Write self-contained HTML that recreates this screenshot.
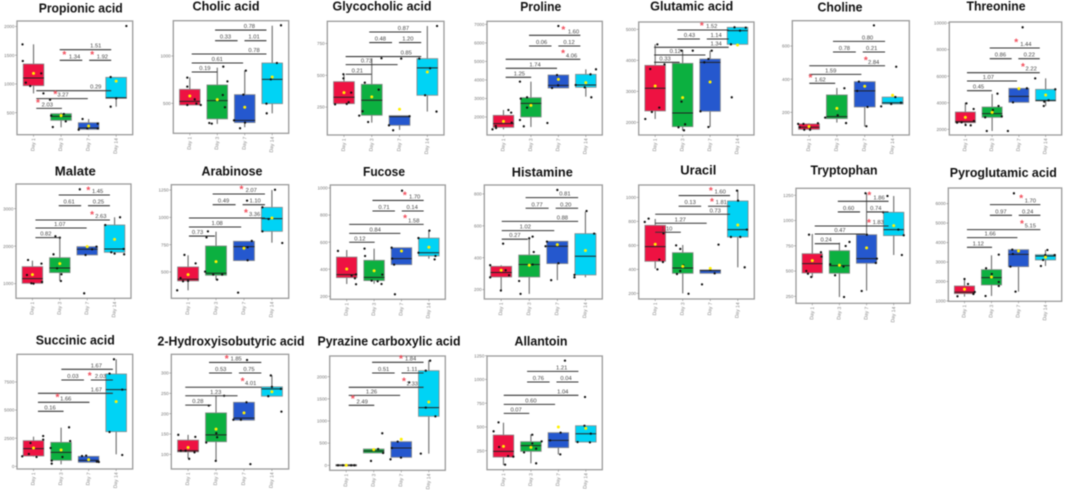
<!DOCTYPE html>
<html lang="en">
<head>
<meta charset="utf-8">
<title>Metabolite box plots</title>
<style>
html,body{margin:0;padding:0;background:#fff;width:1065px;height:490px;overflow:hidden}
svg{display:block;filter:blur(0.4px)}
text{font-family:"Liberation Sans",sans-serif}
</style>
</head>
<body>
<svg id="figure" width="1065" height="490" viewBox="0 0 1065 490" xmlns="http://www.w3.org/2000/svg"></svg>
<script>
const days = ['Day 1','Day 3','Day 7','Day 14'];
const dayColors = ['#EE1242','#0CB040','#2558CE','#00D3F5'];

/* Each stats row: low whisker, Q1, median, Q3, high whisker, mean */
const propionicStats = [[836,970,1103,1347,1689,1184],[245,367,436,483,500,448],[200,210,233,326,390,268],[604,750,760,1115,1115,1050]];
const propionicPoints = [[.6,1689],[.61,1399],[.72,1022],[.88,964],[1.28,1184],[1.36,836],[1.64,448],[1.7,250],[2.1,477],[2.17,349],[1.6,726],[2.64,204],[2.78,390],[3.33,309],[3.33,227],[2.95,227],[3.8,604],[3.8,1120],[4,750],[4.37,2008]];
const propionicBracketY = [575,744,883,1411,1411,1596];
const propionicLabels = [['2.03',1.5],['3.27',2.07],['0.29',3.26],['1.34',2.49],['1.92',3.5],['1.51',3.26]];
const propionicStars = [[1.16,703],[1.79,854],[2.12,1544],[3.13,1544]];
const propionicTicks = [500,1000,1500,2000];

const cholicStats = [[482,482,521,648,775,577],[282,335,528,694,877,539],[247,296,320,592,845,458],[394,496,753,926,1320,778]];
const cholicPoints = [[.91,771],[.91,676],[.91,482],[1.18,542],[1.24,496],[1.4,482],[1.71,292],[1.8,285],[2.2,588],[2.22,887],[2.28,458],[2.37,732],[2.61,320],[2.83,236],[2.95,592],[3.04,845],[3.01,296],[3.79,496],[3.8,394],[3.95,753],[4.17,926],[4.32,1324]];
const cholicBracketY = [831,926,1021,1162,1162,1274];
const cholicLabels = [['0.19',1.55],['0.61',2],['0.78',3.34],['0.33',2.3],['1.01',3.34],['0.78',3.17]];
const cholicStars = [];
const cholicTicks = [500,1000];

const glycocholicStats = [[275,277,327,450,510,364],[128,186,304,429,634,330],[71,107,175,183,183,233],[215,343,558,631,887,526]];
const glycocholicPoints = [[.68,272],[.98,476],[.98,508],[1.1,275],[1.17,288],[1.26,364],[1.55,183],[1.67,217],[1.75,442],[1.87,133],[2.25,387],[2.35,634],[2.62,107],[2.77,68],[3.06,631],[3.36,178],[3.71,631],[3.92,343],[4.1,555],[4.33,215],[4.35,887]];
const glycocholicBracketY = [508,584,647,757,757,840];
const glycocholicLabels = [['0.21',1.48],['0.73',1.81],['0.85',3.24],['0.48',2.31],['1.20',3.3],['0.87',3.14]];
const glycocholicStars = [];
const glycocholicTicks = [250,500,750];

const prolineStats = [[1334,1442,1640,2090,2378,1766],[1460,2000,2738,3044,3908,2630],[3566,3566,3710,4268,4268,4034],[3098,3602,3728,4304,4574,3854]];
const prolinePoints = [[.6,1334],[.72,1514],[.73,1406],[1.18,2378],[1.28,2234],[1.3,1694],[1.6,3908],[1.6,1838],[1.74,1496],[1.63,2990],[1.86,2504],[1.86,3062],[2.6,1676],[2.77,3566],[2.95,4268],[2.99,3710],[3,6914],[3.63,3728],[3.96,3602],[4.17,4304],[4.2,3062],[4.37,4574]];
const prolineBracketY = [4142,4628,5114,5834,5834,6410];
const prolineLabels = [['1.25',1.58],['1.74',2.15],['4.06',3.48],['0.06',2.39],['0.12',3.39],['1.60',3.55]];
const prolineStars = [[3.18,6806],[3.17,5546]];
const prolineTicks = [2000,3000,4000,5000,6000,7000];

const glutamicStats = [[2107,2366,3097,3838,4515,3172],[1731,1860,2301,3903,4333,2795],[1850,2355,3935,4043,4311,3301],[4516,4516,4956,5064,5064,4494]];
const glutamicPoints = [[.64,2107],[.82,3720],[.88,2333],[1.08,4515],[1.15,2473],[1.34,3870],[1.85,1839],[1.96,4311],[1.96,2667],[2.05,1742],[2.09,1935],[2.37,4311],[2.65,2355],[2.79,3935],[2.94,1850],[2.94,4043],[3.06,4311],[3.79,2806],[3.76,4516],[3.89,5064],[4.09,4956],[4.3,5053]];
const glutamicBracketY = [3935,4172,4419,4688,4688,4978];
const glutamicLabels = [['0.33',1.36],['0.12',1.73],['1.34',3.22],['0.43',2.25],['1.14',3.22],['1.52',3.06]];
const glutamicStars = [[2.7,5171]];
const glutamicTicks = [2000,3000,4000,5000];

const cholineStats = [[93,97,110,130,134,114],[138,162,174,305,347,224],[114,232,329,385,385,357],[250,250,258,292,292,303]];
const cholinePoints = [[.61,130],[.67,110],[.8,130],[.83,95],[1.04,95],[1.32,134],[1.04,110],[1.58,168],[2.03,182],[2.27,345],[2.33,135],[2.73,329],[3.06,116],[2.79,385],[3.1,232],[3.59,236],[3.95,250],[4.13,475],[4.1,292],[4.3,258],[3.33,725]];
const cholineBracketY = [375,429,481,564,564,628];
const cholineLabels = [['1.62',1.4],['1.59',1.78],['2.84',3.32],['0.78',2.27],['0.21',3.25],['0.80',3.1]];
const cholineStars = [[1.05,419],[3.04,526]];
const cholineTicks = [200,400,600];

const threonineStats = [[2301,2502,2577,3304,4006,2903],[1875,2903,3179,3680,4658,3279],[4031,4031,4483,5085,5085,5060],[3756,4132,4182,5010,5837,4583]];
const threoninePoints = [[.69,2502],[.86,2527],[1.04,3956],[1.01,2326],[1.2,2301],[1.31,3530],[1.32,2627],[1.8,1875],[1.74,2903],[2.03,3455],[2.24,3756],[2.2,4683],[2.36,2978],[2.59,1875],[2.78,4031],[3.14,9675],[3.3,5085],[3.61,5837],[3.93,3756],[3.95,4082],[4.11,4182],[4.36,5010]];
const threonineBracketY = [4909,5637,6264,7317,7317,8120];
const threonineLabels = [['0.45',1.49],['1.07',1.86],['2.22',3.46],['0.86',2.31],['0.22',3.39],['1.44',3.26]];
const threonineStars = [[2.9,8696],[3.15,6865]];
const threonineTicks = [2000,4000,6000,8000,10000];

const malateStats = [[991,1009,1133,1453,1613,1240],[1080,1293,1418,1693,2236,1533],[1765,1765,1916,1987,2005,1987],[1791,1836,1925,2565,2770,2182]];
const malatePoints = [[.84,1631],[.8,1231],[.96,1009],[1.04,1000],[1.33,1533],[1.35,1044],[1.77,1782],[1.9,1409],[1.84,2262],[2.06,1249],[2.04,1071],[2,2227],[2.89,742],[2.94,1765],[3.18,1916],[3.34,1987],[2.73,3516],[3.66,2565],[3.88,1836],[4,1800],[4.2,2770],[4.35,1782],[4.33,1925]];
const malateBracketY = [2227,2485,2698,3080,3080,3365];
const malateLabels = [['0.82',1.49],['1.07',2],['2.63',3.5],['0.61',2.34],['0.25',3.41],['1.45',3.38]];
const malateStars = [[3.04,3543],[3.18,2894]];
const malateTicks = [1000,2000,3000];

const arabinoseStats = [[332,418,433,546,653,476],[427,470,488,738,869,595],[604,604,732,781,781,717],[768,872,988,1092,1250,994]];
const arabinosePoints = [[.61,332],[.73,445],[.82,415],[.87,656],[1,418],[1.27,579],[1.61,503],[1.66,817],[1.71,872],[1.9,476],[2.04,430],[2.22,476],[2.79,311],[3.13,607],[3.13,726],[3.11,1153],[3.28,784],[3.66,872],[3.66,1092],[3.88,985],[4.11,1253],[4.37,765]];
const arabinoseBracketY = [829,912,994,1116,1116,1214];
const arabinoseLabels = [['0.73',1.34],['1.08',2.04],['3.36',3.38],['0.49',2.27],['1.10',3.4],['2.07',3.26]];
const arabinoseStars = [[2.91,1275],[3.07,1061]];
const arabinoseTicks = [500,750,1000,1250];

const fucoseStats = [[291,338,360,490,542,402],[293,316,340,466,552,389],[434,434,478,559,559,535],[478,498,522,630,685,562]];
const fucosePoints = [[.68,535],[1.18,353],[1.3,333],[1.34,362],[1.34,289],[1.65,552],[1.67,498],[1.91,316],[2.13,311],[2.27,291],[2.3,360],[2.76,215],[2.73,434],[2.66,478],[2.64,559],[3.02,980],[3.62,630],[3.62,522],[4.02,685],[4.24,498],[4.21,473]];
const fucoseBracketY = [599,665,731,830,830,908];
const fucoseLabels = [['0.12',1.48],['0.84',2.04],['1.58',3.45],['0.71',2.36],['0.14',3.39],['1.70',3.48]];
const fucoseStars = [[3.12,960],[3.13,790]];
const fucoseTicks = [200,400,600,800,1000];

const histamineStats = [[194,279,307,346,353,321],[173,279,357,417,528,353],[259,363,472,503,503,482],[277,292,409,551,689,445]];
const histaminePoints = [[.61,353],[.61,277],[.99,194],[1.07,488],[1.16,321],[1.28,290],[1.64,254],[1.69,173],[2.12,532],[2.16,436],[2.12,357],[2,522],[2.78,259],[2.63,501],[2.58,472],[3.04,365],[3,825],[3.61,292],[3.61,277],[4.04,693],[4.31,551]];
const histamineBracketY = [516,570,628,710,710,777];
const histamineLabels = [['0.27',1.49],['1.02',1.86],['0.88',3.18],['0.77',2.28],['0.20',3.3],['0.81',3.27]];
const histamineStars = [];
const histamineTicks = [200,400,600,800];

const uracilStats = [[406,467,589,767,820,609],[200,367,411,539,603,425],[367,367,389,395,400,408],[417,670,731,970,1062,770]];
const uracilPoints = [[.62,795],[.76,823],[1.08,400],[1.15,481],[1.28,461],[1.3,700],[1.76,600],[1.79,361],[1.91,570],[1.91,386],[2.02,433],[2.21,197],[2.7,275],[3.16,367],[3.3,606],[3,395],[3.75,670],[3.97,1056],[4.01,973],[4.09,670],[4.25,417],[4.33,731]];
const uracilBracketY = [709,784,859,926,926,1015];
const uracilLabels = [['1.10',1.42],['1.27',1.91],['0.73',3.18],['0.13',2.27],['1.81',3.4],['1.60',3.36]];
const uracilStars = [[3.02,1073],[3.06,978]];
const uracilTicks = [200,400,600,800,1000];

const tryptophanStats = [[438,481,573,672,867,603],[243,478,554,702,781,557],[306,577,623,860,1270,729],[659,851,910,1082,1243,950]];
const tryptophanPoints = [[.78,501],[.84,474],[.96,441],[.88,860],[1.32,686],[1.34,643],[1.66,567],[1.84,458],[2.15,544],[2.17,243],[2.23,748],[2.37,788],[2.82,303],[2.96,1270],[3.01,860],[3.34,580],[3.38,623],[3.61,1082],[3.77,1243],[4.17,910],[4.3,659],[4.37,854]];
const tryptophanBracketY = [771,867,946,1085,1085,1190];
const tryptophanLabels = [['0.24',1.51],['0.47',2.02],['1.83',3.43],['0.60',2.34],['0.74',3.34],['1.86',3.46]];
const tryptophanStars = [[3.1,1270],[3.09,996]];
const tryptophanTicks = [250,500,750,1000,1250];

const pyroglutamicStats = [[1223,1377,1445,1770,2147,1599],[1257,1822,2198,2609,3345,2233],[1479,2763,3397,3636,3636,3568],[2798,3106,3311,3380,3619,3243]];
const pyroglutamicPoints = [[.74,1240],[1,2130],[1.13,1873],[1.33,1360],[1.38,1462],[1.78,1257],[1.8,2678],[2.01,2387],[2.27,1976],[2.27,1770],[2.27,3380],[2.7,2763],[2.77,3636],[2.79,3414],[2.89,1479],[2.83,6530],[3.83,2798],[3.91,3106],[4.07,3619],[3.99,3363],[4.34,3363]];
const pyroglutamicBracketY = [3756,4253,4664,5400,5400,5948];
const pyroglutamicLabels = [['1.12',1.51],['1.66',1.95],['5.15',3.44],['0.97',2.35],['0.24',3.34],['1.70',3.44]];
const pyroglutamicStars = [[3.1,6376],[3.13,5075]];
const pyroglutamicTicks = [1000,2000,3000,4000,5000,6000];

const succinicStats = [[860,919,1571,2282,2638,1630],[178,534,1245,2134,3438,1452],[356,356,534,889,889,593],[1067,3083,6817,8210,9514,5750]];
const succinicPoints = [[.59,889],[.83,1097],[.89,2075],[1.11,830],[1.35,2371],[1.35,2697],[1.62,1630],[1.66,504],[1.66,237],[2.05,830],[2.29,3468],[2.33,2253],[2.76,919],[2.91,948],[3.3,415],[3.37,385],[3.76,3053],[3.76,8240],[3.92,9514],[4.22,6817],[4.22,1008]];
const succinicBracketY = [4891,5691,6491,7677,7677,8625];
const succinicLabels = [['0.16',1.6],['1.66',2.17],['1.67',3.28],['0.03',2.43],['2.03',3.43],['1.67',3.28]];
const succinicStars = [[1.87,6313],[3.04,8240]];
const succinicTicks = [0,2500,5000,7500];

const hydroxyStats = [[90,106,109,135,148,117],[84,131,148,202,244,162],[184,184,189,228,228,202],[243,243,261,266,294,254]];
const hydroxyPoints = [[.65,148],[.74,109],[.91,109],[1.04,89],[1.26,143],[1.23,105],[1.65,129],[1.99,84],[1.74,220],[2.01,152],[2.04,142],[2.29,244],[2.62,185],[2.89,185],[3.09,228],[3.23,76],[3.11,332],[3.87,243],[4,266],[3.96,294],[4.34,205],[4.32,261]];
const hydroxyBracketY = [221,244,265,300,300,326];
const hydroxyLabels = [['0.28',1.35],['1.23',1.99],['4.01',3.24],['0.53',2.17],['0.75',3.18],['1.85',2.72]];
const hydroxyStars = [[2.38,340],[2.95,285]];
const hydroxyTicks = [100,150,200,250,300];

const pyrazineStats = [[-15,-15,0,15,15,0],[278,278,323,368,368,353],[180,180,391,534,534,587],[263,1105,1301,2136,2369,1429]];
const pyrazinePoints = [[.7,0],[.88,0],[1,0],[1.18,0],[1.3,0],[1.9,98],[2.16,368],[2.31,722],[2.34,278],[2.61,135],[2.66,391],[2.87,534],[2.99,173],[3.29,1872],[3.71,263],[3.89,2136],[3.89,1301],[4.05,2361],[4.24,1105]];
const pyrazineBracketY = [1354,1579,1760,2083,2083,2324];
const pyrazineLabels = [['2.49',1.58],['1.26',1.92],['2.33',3.4],['0.51',2.36],['1.11',3.39],['1.84',3.34]];
const pyrazineStars = [[2.99,2452],[3.1,1940],[1.24,1542]];
const pyrazineTicks = [0,500,1000,1500,2000];

const allantoinStats = [[99,183,243,415,545,296],[117,243,303,345,422,285],[211,282,359,440,440,499],[341,341,429,513,513,485]];
const allantoinPoints = [[.64,454],[.82,548],[.84,289],[1.06,103],[1.17,194],[1.36,187],[1.75,232],[2.05,418],[2.19,117],[2.19,271],[2.05,327],[2.39,348],[2.7,359],[3.08,440],[3.07,211],[3.7,341],[3.95,513],[3.97,815],[4.18,429],[4.15,338],[3.24,1198]];
const allantoinBracketY = [643,738,833,973,973,1085];
const allantoinLabels = [['0.07',1.46],['0.60',2],['1.04',3.16],['0.76',2.27],['0.04',3.28],['1.21',3.12]];
const allantoinStars = [];
const allantoinTicks = [250,500,750,1000,1250];

/* Category spans of the six pairwise comparison brackets */
const comparisonSpans = [[1.1,2.03],[1.1,2.97],[1.1,3.82],[1.95,2.77],[3.02,3.82],[1.95,3.82]];

function panel(title, titleX, titleY, titleW, rect, domain, spanShift, ticks, stats, points, bracketY, labels, stars) {
  return {title, titleX, titleY, titleW, rect, domain, spanShift, ticks, stats, points, bracketY, labels, stars};
}

const panels = [
  panel('Propionic acid',80.7,8,84,[17,21,132.7,134.7],[117,2095],0,propionicTicks,propionicStats,propionicPoints,propionicBracketY,propionicLabels,propionicStars),
  panel('Cholic acid',226,6,67,[173.3,20.7,288.7,133.3],[183,1373],-0.03,cholicTicks,cholicStats,cholicPoints,cholicBracketY,cholicLabels,cholicStars),
  panel('Glycocholic acid',382,6,99,[327.3,21.3,444,135],[31,924],-0.04,glycocholicTicks,glycocholicStats,glycocholicPoints,glycocholicBracketY,glycocholicLabels,glycocholicStars),
  panel('Proline',540.7,6.5,41,[487,21.3,602.3,135],[1028,7166],-0.02,prolineTicks,prolineStats,prolinePoints,prolineBracketY,prolineLabels,prolineStars),
  panel('Glutamic acid',691.7,6,83,[638.7,22,754,135],[1591,5236],-0.14,glutamicTicks,glutamicStats,glutamicPoints,glutamicBracketY,glutamicLabels,glutamicStars),
  panel('Choline',840,7,45,[792.3,20.7,909.3,135],[63,753],-0.09,cholineTicks,cholineStats,cholinePoints,cholineBracketY,cholineLabels,cholineStars),
  panel('Threonine',996,6,59,[949.3,22,1061.7,135],[1574,10076],-0.04,threonineTicks,threonineStats,threoninePoints,threonineBracketY,threonineLabels,threonineStars),
  panel('Malate',75.3,171,41,[16,184,131,298.3],[609,3658],0.01,malateTicks,malateStats,malatePoints,malateBracketY,malateLabels,malateStars),
  panel('Arabinose',232,171,61,[171.3,184.7,288.7,298.3],[259,1299],-0.07,arabinoseTicks,arabinoseStats,arabinosePoints,arabinoseBracketY,arabinoseLabels,arabinoseStars),
  panel('Fucose',384,171.7,42,[330.3,185,445.3,299.3],[178,1022],-0.01,fucoseTicks,fucoseStats,fucosePoints,fucoseBracketY,fucoseLabels,fucoseStars),
  panel('Histamine',542.3,172,61,[484.3,185,602.3,299],[141,856],-0.08,histamineTicks,histamineStats,histaminePoints,histamineBracketY,histamineLabels,histamineStars),
  panel('Uracil',698.3,170,36,[638.7,185,754.3,299],[153,1103],-0.1,uracilTicks,uracilStats,uracilPoints,uracilBracketY,uracilLabels,uracilStars),
  panel('Tryptophan',844,170,67,[796,188.3,910,303.3],[181,1319],-0.01,tryptophanTicks,tryptophanStats,tryptophanPoints,tryptophanBracketY,tryptophanLabels,tryptophanStars),
  panel('Pyroglutamic acid',1003.3,172.7,107,[948.3,188,1061.7,301.3],[983,6804],-0.01,pyroglutamicTicks,pyroglutamicStats,pyroglutamicPoints,pyroglutamicBracketY,pyroglutamicLabels,pyroglutamicStars),
  panel('Succinic acid',75.3,340.3,79,[17,354.3,132.7,469],[-237,9959],0.06,succinicTicks,succinicStats,succinicPoints,succinicBracketY,succinicLabels,succinicStars),
  panel('2-Hydroxyisobutyric acid',231,341,147,[171.3,354.3,288.7,469],[64,346],-0.2,hydroxyTicks,hydroxyStats,hydroxyPoints,hydroxyBracketY,hydroxyLabels,hydroxyStars),
  panel('Pyrazine carboxylic acid',389,341,143,[329.7,356,445.3,470.3],[-113,2467],-0.01,pyrazineTicks,pyrazineStats,pyrazinePoints,pyrazineBracketY,pyrazineLabels,pyrazineStars),
  panel('Allantoin',541,341,53,[487,356,602.3,469.7],[50,1247],-0.09,allantoinTicks,allantoinStats,allantoinPoints,allantoinBracketY,allantoinLabels,allantoinStars)
];

const NS = 'http://www.w3.org/2000/svg';
const figure = document.getElementById('figure');

function make(tag, parent, props, content) {
  const node = document.createElementNS(NS, tag);
  for (const key in props) node.setAttribute(key, props[key]);
  if (content !== undefined) node.textContent = content;
  parent.appendChild(node);
  return node;
}

panels.forEach(function (p) {
  const [L, T, R, B] = p.rect;
  const xOf = function (c) { return L + (c - 0.4) / 4.2 * (R - L); };
  const yOf = function (v) { return B - (v - p.domain[0]) / (p.domain[1] - p.domain[0]) * (B - T); };
  const halfBox = (xOf(2) - xOf(1)) * 0.375;

  const g = make('g', figure, {});
  
  

  const title = make('text', g, {x: p.titleX, y: p.titleY + 4.3, 'text-anchor': 'middle', 'font-size': 12.5, 'font-weight': 'bold', fill: '#111', textLength: p.titleW, lengthAdjust: 'spacingAndGlyphs'}, p.title);
  
  

  const frame = make('rect', g, {x: L, y: T, width: R - L, height: B - T, fill: '#fff', stroke: '#9a9a9a', 'stroke-width': 1.3});
  
  

  p.ticks.forEach(function (t) {
    const tick = make('line', g, {x1: L - 2, x2: L, y1: yOf(t), y2: yOf(t), stroke: '#888', 'stroke-width': 0.6});
    
    
    const label = make('text', g, {x: L - 2.6, y: yOf(t) + 1.6, 'text-anchor': 'end', 'font-size': 4.6, fill: '#777'}, String(t));
    
    
  });

  days.forEach(function (day, i) {
    const x = xOf(i + 1);
    const tick = make('line', g, {x1: x, x2: x, y1: B, y2: B + 2, stroke: '#888', 'stroke-width': 0.6});
    
    
    const label = make('text', g, {x: x + 1.7, y: B + 3.5, 'text-anchor': 'end', 'font-size': 5, fill: '#888', transform: 'rotate(-86 ' + (x + 1.7) + ' ' + (B + 3.5) + ')'}, day);
    
    
  });

  p.stats.forEach(function (row, i) {
    const [lo, q1, med, q3, hi] = row;
    const x = xOf(i + 1);
    const whisker = make('line', g, {x1: x, x2: x, y1: yOf(lo), y2: yOf(hi), stroke: '#777', 'stroke-width': 1.2});
    
    
    const box = make('rect', g, {x: x - halfBox, y: yOf(q3), width: halfBox * 2, height: yOf(q1) - yOf(q3), fill: dayColors[i], stroke: '#8a8a8a', 'stroke-width': 0.8});
    
    
    const median = make('line', g, {x1: x - halfBox, x2: x + halfBox, y1: yOf(med), y2: yOf(med), stroke: '#222', 'stroke-width': 1});
    
    
  });

  p.points.forEach(function (pt) {
    const dot = make('circle', g, {cx: xOf(pt[0]), cy: yOf(pt[1]), r: 1.15, fill: '#111'});
    
    
  });

  p.stats.forEach(function (row, i) {
    const mean = make('circle', g, {cx: xOf(i + 1), cy: yOf(row[5]), r: 1.5, fill: '#FFF000'});
    
    
  });

  p.bracketY.forEach(function (v, i) {
    const span = comparisonSpans[i];
    const bar = make('line', g, {x1: xOf(span[0] + p.spanShift), x2: xOf(span[1] + p.spanShift), y1: yOf(v), y2: yOf(v), stroke: '#333', 'stroke-width': 1.05});
    
    
    const text = make('text', g, {x: xOf(p.labels[i][1]), y: yOf(v) - 2, 'text-anchor': 'middle', 'font-size': 5.8, fill: '#444'}, p.labels[i][0]);
    
    
  });

  p.stars.forEach(function (s) {
    const star = make('text', g, {x: xOf(s[0]), y: yOf(s[1]) + 5.2, 'text-anchor': 'middle', 'font-size': 10, 'font-weight': 'bold', fill: '#F24A58'}, '*');
    
    
  });
});
</script>
</body>
</html>
